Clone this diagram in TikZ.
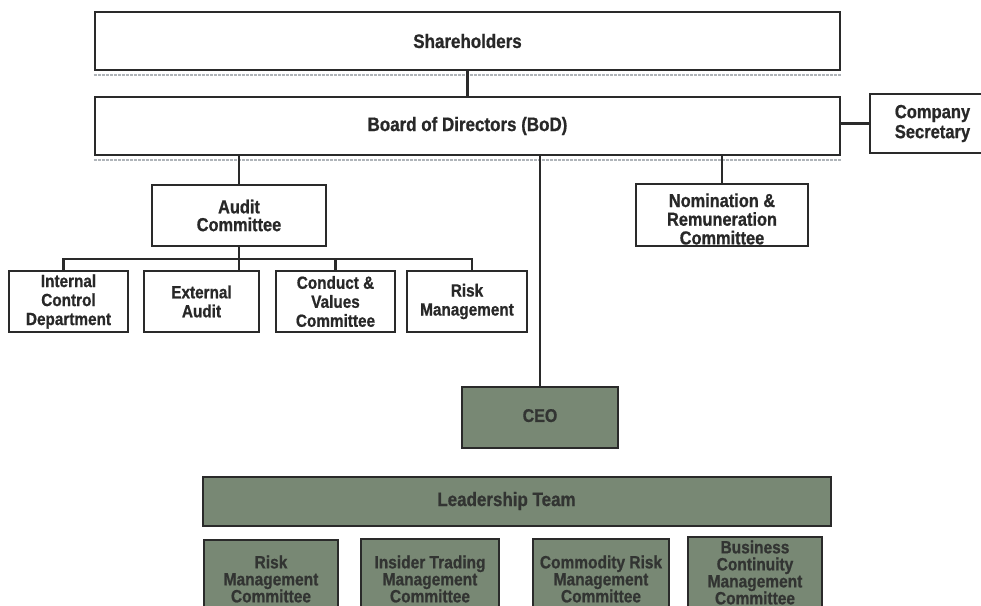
\documentclass[tikz,border=0pt]{standalone}
\usepackage{fontspec}
\setmainfont{Liberation Sans}[FakeStretch=0.87, BoldFeatures={FakeBold=0.8}]
\definecolor{lineC}{RGB}{42,42,42}
\definecolor{txtC}{RGB}{40,40,40}
\definecolor{boxG}{RGB}{120,136,116}
\definecolor{gtxt}{RGB}{50,52,50}
\definecolor{scanC}{RGB}{175,180,185}
\begin{document}
\begin{tikzpicture}[x=1pt,y=-1pt,
  wbox/.style={draw=lineC, line width=2.7pt, fill=white, inner sep=0pt, text=txtC, align=center},
  gbox/.style={draw=lineC, line width=2.4pt, fill=boxG, inner sep=0pt, text=gtxt, align=center},
  lbl/.style={inner sep=0pt, align=center},
  conn/.style={draw=lineC, line width=2.5pt},
  scan/.style={draw=scanC, line width=1.3pt, dash pattern=on 3pt off 1pt},
  fA/.style={font={\fontsize{19.5}{20}\selectfont\bfseries}},
  fB/.style={font={\fontsize{18.8}{18.7}\selectfont\bfseries}},
  fC/.style={font={\fontsize{17.6}{19}\selectfont\bfseries}},
  fD/.style={font={\fontsize{17.8}{17}\selectfont\bfseries}}]
\useasboundingbox (0,0) rectangle (981,605);
\clip (0,0) rectangle (981,605);

% top level
\node[wbox, fA, minimum width=745pt, minimum height=58pt] (sh) at (467.5,41) {Shareholders};
\node[wbox, fA, minimum width=745pt, minimum height=58pt] (bod) at (467.5,126) {Board of Directors (BoD)};
\node[wbox, minimum width=125pt, minimum height=59pt, font={\fontsize{19}{20}\selectfont\bfseries}] (cs) at (932.5,123.5) {Company\\Secretary};

\draw[scan] ([yshift=-3.5pt]sh.south west) -- ([yshift=-3.5pt]sh.south east);
\draw[scan] ([yshift=-3.5pt]bod.south west) -- ([yshift=-3.5pt]bod.south east);

% committees
\node[wbox, minimum width=174pt, minimum height=61pt, font={\fontsize{18.8}{17.8}\selectfont\bfseries}] (aud) at (239,215.5) {Audit\\Committee};
\node[wbox, minimum width=172pt, minimum height=62pt] (nom) at (722,215) {};
\node[lbl, fB, text=txtC] (nomt) at (722,219) {Nomination \&\\Remuneration\\Committee};

\node[wbox, fC, minimum width=119pt, minimum height=61pt] (icd) at (68.5,301.5) {Internal\\Control\\Department};
\node[wbox, fC, minimum width=115pt, minimum height=61pt] (ext) at (201.5,301.5) {External\\Audit};
\node[wbox, fC, minimum width=119pt, minimum height=61pt] (cvc) at (335.5,301.5) {Conduct \&\\Values\\Committee};
\node[wbox, fC, minimum width=120pt, minimum height=61pt] (rm) at (467,301.5) {Risk\\Management};

% executive
\node[gbox, font={\fontsize{18.4}{19}\selectfont\bfseries}, minimum width=156pt, minimum height=61pt] (ceo) at (540,417.5) {\raisebox{4pt}{CEO}};
\node[gbox, minimum width=628pt, minimum height=49pt] (lt) at (517,501.5) {};
\node[lbl, fA, text=gtxt] (ltt) at (506.5,501) {Leadership Team};

\node[gbox, fD, minimum width=134pt, minimum height=78pt] (rmc) at (271,579) {Risk\\Management\\Committee};
\node[gbox, fD, minimum width=138pt, minimum height=80pt] (itm) at (430,579) {Insider Trading\\Management\\Committee};
\node[gbox, fD, minimum width=136pt, minimum height=80pt] (crm) at (601,579) {Commodity Risk\\Management\\Committee};
\node[gbox, fD, minimum width=134pt, minimum height=71pt] (bcm) at (755,572.5) {Business\\Continuity\\Management\\Committee};

% connectors
\coordinate (bus) at (0,259);
\draw[conn] (sh.south) -- (sh.south |- bod.north);
\draw[conn] (cs.west) -- (cs.west -| bod.east);
\draw[conn] (bod.south -| aud.north) -- (aud.north);
\draw[conn] (bod.south -| ceo.north) -- (ceo.north);
\draw[conn] (bod.south -| nom.north) -- (nom.north);
\draw[conn] (aud.south) -- (aud.south |- ext.north);
\draw[conn] ([xshift=-5pt]icd.north) -- ([xshift=-5pt]icd.north |- bus) -- ([xshift=5pt]rm.north |- bus) -- ([xshift=5pt]rm.north);
\draw[conn] (cvc.north |- bus) -- (cvc.north);
\end{tikzpicture}
\end{document}
